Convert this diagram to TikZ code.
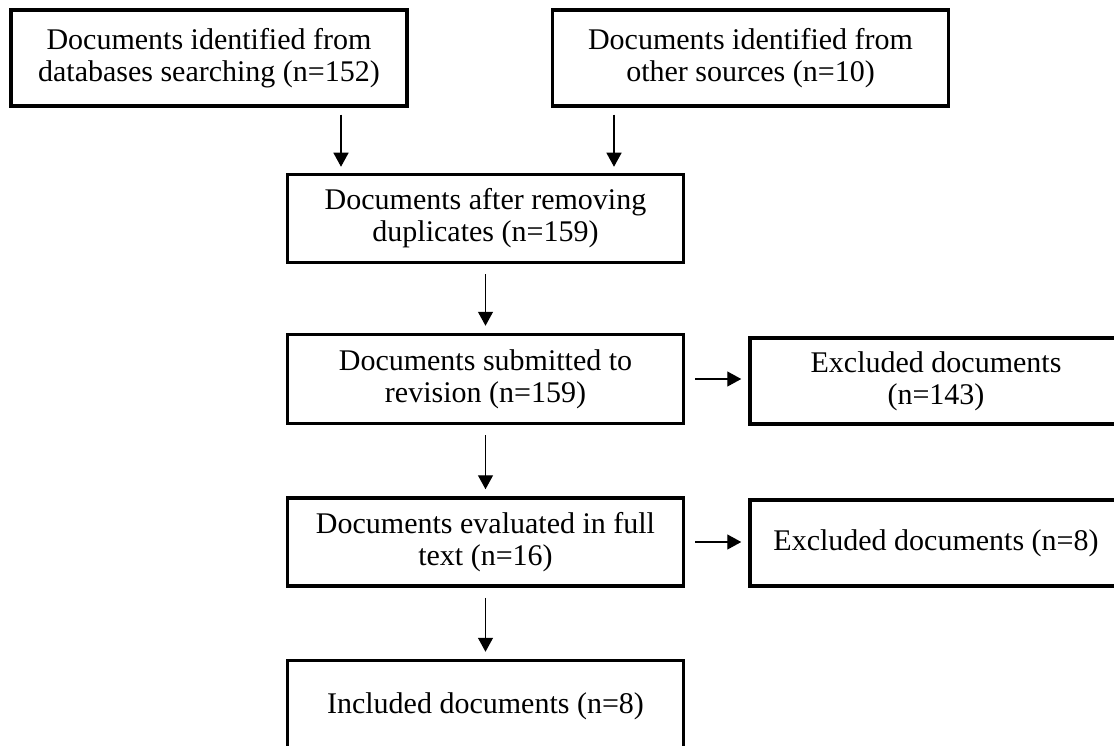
\documentclass[tikz,border=0pt]{standalone}
\usepackage{fontspec}
\setmainfont{Liberation Serif}
\usetikzlibrary{arrows.meta}
\begin{document}
\begin{tikzpicture}[x=1pt, y=-1pt,
  box/.style={draw, line width=3.5pt, align=center, inner sep=0pt,
    minimum width=396pt, minimum height=88pt, font=\fontsize{30}{32}\selectfont},
  arr/.style={-{Triangle[length=14pt,width=15pt]}, line width=1.3pt,
    shorten <=10pt, shorten >=7pt}]

\useasboundingbox (0,0) rectangle (1114,746);
\clip (0,0) rectangle (1114,746);

\node[box, minimum height=96pt] (db) at (209,58) {Documents identified from\\databases searching (n=152)};
\node[box, minimum height=96pt] (other) at (750.5,58) {Documents identified from\\other sources (n=10)};
\node[box] (dup) at (485.5,218.5) {Documents after removing\\duplicates (n=159)};
\node[box, minimum height=89pt] (rev) at (485.5,379) {Documents submitted to\\revision (n=159)};
\node[box, minimum width=372pt, minimum height=86pt] (exc1) at (936,381) {Excluded documents\\(n=143)};
\node[box] (full) at (485.5,542) {Documents evaluated in full\\text (n=16)};
\node[box, minimum width=372pt, minimum height=86pt] (exc2) at (936,543) {Excluded documents (n=8)};
\node[box, minimum height=91pt] (inc) at (485.5,706) {Included documents (n=8)};

\draw[arr, shorten <=7pt, shorten >=6pt] (db.south -| 341,0) -- (dup.north -| 341,0);
\draw[arr, shorten <=7pt, shorten >=6pt] (other.south -| 614,0) -- (dup.north -| 614,0);
\foreach \a/\b in {dup/rev, rev/full, full/inc}
\draw[arr] (\a) -- (\b);
\foreach \a/\b in {rev/exc1, full/exc2}
\draw[arr] (\a.east) -- (\a.east -| \b.west);

\end{tikzpicture}
\end{document}
